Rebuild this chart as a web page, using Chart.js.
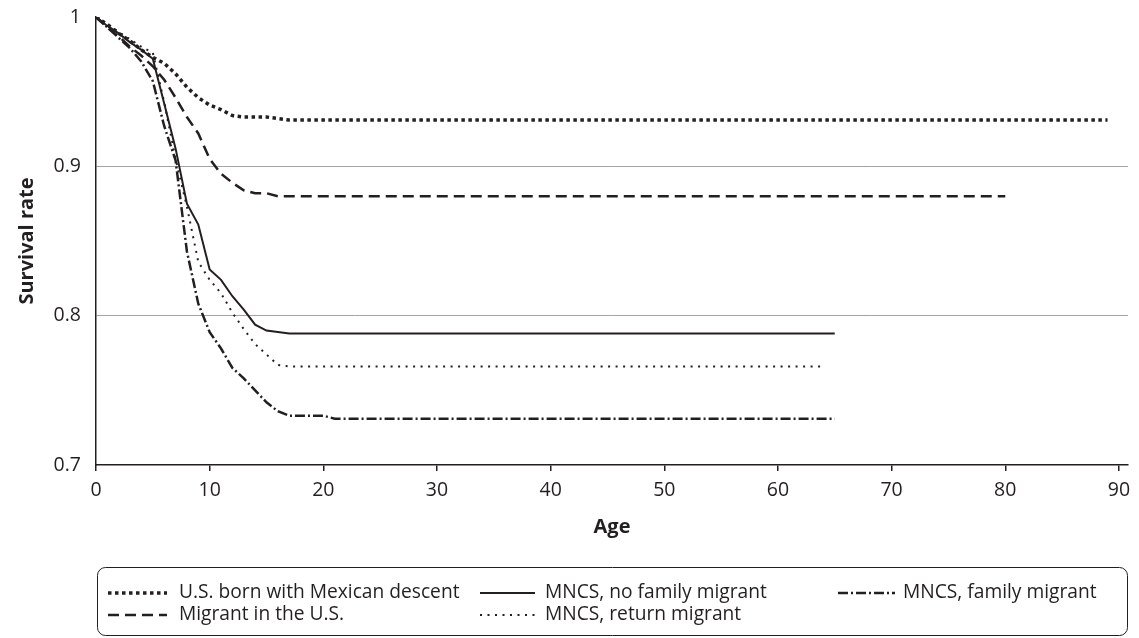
<!DOCTYPE html>
<html>
<head>
<meta charset="utf-8">
<script src="https://cdn.jsdelivr.net/npm/chart.js@4.4.0/dist/chart.umd.min.js"></script>
<style>
  html, body { margin: 0; padding: 0; background: #fff; }
</style>
</head>
<body>
<canvas id="chart" width="1139" height="638"></canvas>
<script>
// survival rate by age
const usBornAges = [0,1,2,3,4,5,6,7,8,9,10,11,12,13,14,15,16,17,89];
const usBornRate = [1,.995,.989,.984,.978,.973,.969,.962,.953,.946,.941,.938,.934,.933,.933,.933,.932,.931,.931];

const migrantAges = [0,1,2,3,4,5,6,7,8,9,10,11,12,13,14,15,16,80];
const migrantRate = [1,.993,.987,.980,.974,.967,.958,.946,.933,.922,.905,.895,.889,.884,.882,.882,.880,.880];

const noFamilyAges = [0,1,2,3,4,5,6,7,8,9,10,11,12,13,14,15,16,17,65];
const noFamilyRate = [1,.994,.989,.983,.978,.972,.942,.912,.875,.861,.831,.824,.813,.804,.794,.790,.789,.788,.788];

const returnAges = [0,1,2,3,4,5,6,7,8,9,10,11,12,13,14,15,16,17,64];
const returnRate = [1,.995,.990,.985,.980,.976,.943,.905,.873,.836,.824,.815,.802,.791,.781,.774,.767,.766,.766];

const familyAges = [0,1,2,3,4,5,6,7,8,9,10,11,12,13,14,15,16,17,20,21,65];
const familyRate = [1,.993,.986,.979,.970,.957,.927,.904,.843,.808,.789,.778,.765,.758,.750,.742,.736,.733,.733,.731,.731];

const xTicks = [0,10,20,30,40,50,60,70,80,90];
const yTicks = [0.7,0.8,0.9,1];

const ink = '#231f20';

function pts(ages, vals) {
  return ages.map((a, i) => ({x: a, y: vals[i]}));
}

// legend slots: [sample start, sample end, text x, row y]
const legendSlots = [
  [108, 167, 179, 593],
  [108, 167, 179, 615],
  [480, 535, 545, 593],
  [480, 535, 545, 615],
  [838, 895, 903, 593]
];

const boxLegend = {
  id: 'boxLegend',
  afterDraw(chart) {
    const ctx = chart.ctx;
    ctx.save();
    ctx.strokeStyle = ink;
    ctx.lineWidth = 1;
    ctx.beginPath();
    ctx.roundRect(97.5, 567.5, 1030, 68, 8);
    ctx.stroke();
    ctx.font = '19.2px "Open Sans"';
    ctx.textBaseline = 'middle';
    ctx.fillStyle = ink;
    chart.data.datasets.forEach((ds, i) => {
      const s = legendSlots[i];
      ctx.save();
      ctx.strokeStyle = ds.borderColor;
      ctx.lineWidth = ds.borderWidth;
      ctx.setLineDash(ds.borderDash || []);
      ctx.beginPath();
      ctx.moveTo(s[0], s[3]);
      ctx.lineTo(s[1], s[3]);
      ctx.stroke();
      ctx.restore();
      ctx.fillText(ds.label, s[2], s[3]);
    });
    ctx.restore();
  }
};

const ctx = document.getElementById('chart').getContext('2d');
const myChart = new Chart(ctx, {
  type: 'line',
  data: {
    datasets: [
      {label: 'U.S. born with Mexican descent', data: pts(usBornAges, usBornRate), borderColor: ink, borderWidth: 3.5, borderDash: [3.5, 3.5]},
      {label: 'Migrant in the U.S.', data: pts(migrantAges, migrantRate), borderColor: ink, borderWidth: 2.5, borderDash: [11, 6]},
      {label: 'MNCS, no family migrant', data: pts(noFamilyAges, noFamilyRate), borderColor: ink, borderWidth: 2},
      {label: 'MNCS, return migrant', data: pts(returnAges, returnRate), borderColor: ink, borderWidth: 2, borderDash: [2, 5.5]},
      {label: 'MNCS, family migrant', data: pts(familyAges, familyRate), borderColor: ink, borderWidth: 2.5, borderDash: [10, 3, 2, 3]}
    ]
  },
  options: {
    responsive: false,
    animation: false,
    parsing: false,
    elements: {
      point: {radius: 0},
      line: {tension: 0, borderCapStyle: 'butt', fill: false}
    },
    layout: {padding: {left: 0, right: 11, top: 17, bottom: 93}},
    plugins: {
      legend: {display: false},
      tooltip: {enabled: false}
    },
    scales: {
      x: {
        type: 'linear',
        min: 0,
        max: 90.8,
        afterBuildTicks: s => { s.ticks = xTicks.map(v => ({value: v})); },
        afterFit: s => { s.height = 80; s.paddingLeft = 0; s.paddingRight = 0; },
        border: {display: true, color: ink, width: 1.5},
        grid: {display: true, drawOnChartArea: false, drawTicks: true, tickLength: 6, color: ink, lineWidth: 1.5},
        ticks: {color: ink, font: {family: 'Open Sans', size: 19.5}, padding: 8, maxRotation: 0},
        title: {display: true, text: 'Age', color: ink, font: {family: 'Open Sans', size: 20, weight: 'bold'}, padding: {top: 0, bottom: 6}}
      },
      y: {
        min: 0.7,
        max: 1,
        afterBuildTicks: s => { s.ticks = yTicks.map(v => ({value: v})); },
        afterFit: s => { s.width = 96; s.paddingTop = 0; s.paddingBottom = 0; },
        border: {display: true, color: ink, width: 1.5},
        grid: {
          drawTicks: false,
          color: c => (c.tick && (Math.abs(c.tick.value - 0.8) < 1e-6 || Math.abs(c.tick.value - 0.9) < 1e-6)) ? '#a3a3a3' : 'rgba(0,0,0,0)',
          lineWidth: 1
        },
        ticks: {
          color: ink,
          font: {family: 'Open Sans', size: 19.5},
          padding: 15,
          callback: v => v === 1 ? '1' : v.toFixed(1)
        },
        title: {display: true, text: 'Survival rate', color: ink, font: {family: 'Open Sans', size: 20, weight: 'bold'}, padding: {top: 15, bottom: 0}}
      }
    }
  },
  plugins: [boxLegend]
});
</script>
</body>
</html>
